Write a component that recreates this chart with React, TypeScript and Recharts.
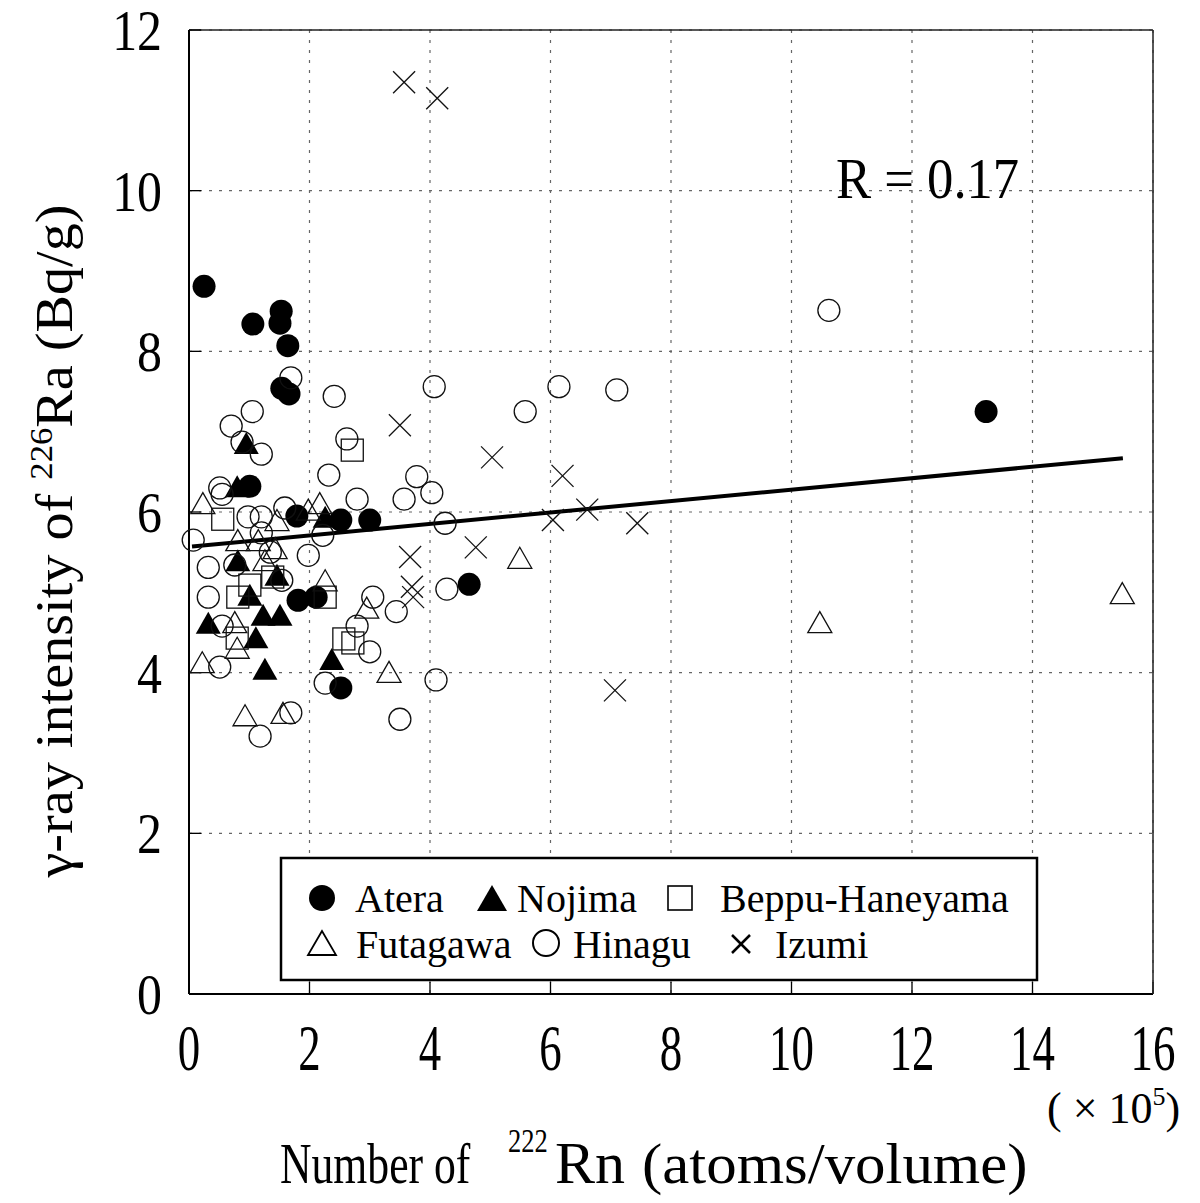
import React from "react"
import { ScatterChart, Scatter, XAxis, YAxis, CartesianGrid, ReferenceLine } from "recharts"

// values (x in units of 10^5 atoms/volume, y in Bq/g)
const ateraX = [0.25, 1.06, 1.53, 1.51, 1.64, 1.54, 1.66, 1.01, 1.79, 1.81, 2.11, 2.52, 3.0, 2.52, 4.65, 13.23]
const ateraY = [8.81, 8.34, 8.5, 8.35, 8.07, 7.54, 7.47, 6.32, 5.95, 4.9, 4.94, 5.9, 5.9, 3.81, 5.1, 7.25]

const nojimaX = [0.95, 0.8, 2.26, 0.81, 1.46, 1.01, 1.23, 1.51, 0.32, 1.11, 1.26, 2.37]
const nojimaY = [6.86, 6.32, 5.94, 5.4, 5.22, 4.97, 4.72, 4.72, 4.62, 4.44, 4.05, 4.17]

const beppuX = [2.71, 0.56, 1.39, 1.01, 0.81, 2.26, 0.8, 2.57, 2.72]
const beppuY = [6.77, 5.91, 5.19, 5.09, 4.94, 4.94, 4.43, 4.42, 4.37]

const futagawaX = [0.23, 2.17, 1.98, 1.46, 0.81, 1.15, 1.43, 1.26, 2.26, 2.95, 0.76, 0.8, 0.22, 0.93, 1.56, 3.32, 5.49, 10.47, 15.49]
const futagawaY = [6.11, 6.11, 6.03, 5.9, 5.65, 5.65, 5.55, 5.4, 5.15, 4.81, 4.63, 4.31, 4.13, 3.47, 3.5, 4.01, 5.43, 4.63, 4.99]

const hinaguX = [10.62, 1.69, 2.41, 1.05, 0.7, 0.88, 1.2, 2.62, 2.32, 0.51, 0.55, 2.79, 1.59, 0.98, 1.2, 1.2, 2.22, 0.07, 1.35, 1.98, 0.32, 0.76, 1.54, 0.32, 3.05, 0.55, 2.79, 3.0, 0.51, 2.26, 1.69, 1.18, 3.44, 3.78, 3.57, 4.03, 4.25, 4.28, 4.1, 3.5, 4.07, 5.58, 6.14, 7.1]
const hinaguY = [8.51, 7.67, 7.44, 7.25, 7.07, 6.87, 6.72, 6.91, 6.46, 6.3, 6.22, 6.16, 6.05, 5.94, 5.94, 5.74, 5.71, 5.65, 5.5, 5.46, 5.31, 5.34, 5.15, 4.94, 4.94, 4.58, 4.58, 4.26, 4.07, 3.87, 3.5, 3.21, 4.76, 6.44, 6.16, 6.24, 5.86, 5.04, 3.91, 3.42, 7.56, 7.25, 7.56, 7.52]

const izumiX = [3.57, 4.12, 3.5, 5.03, 6.2, 6.61, 7.44, 6.04, 4.76, 3.67, 3.7, 3.72, 7.07]
const izumiY = [11.35, 11.15, 7.08, 6.68, 6.45, 6.03, 5.86, 5.9, 5.56, 5.44, 5.07, 4.94, 3.78]

// regression line end points
const fitX = [0.05, 15.5]
const fitY = [5.57, 6.67]

const xTicks = [0, 2, 4, 6, 8, 10, 12, 14, 16]
const yTicks = [0, 2, 4, 6, 8, 10, 12]

const zip = (xs: number[], ys: number[]) => xs.map((x, i) => ({ x, y: ys[i] }))

const FONT = "'Liberation Serif', 'Times New Roman', serif"

const FilledCircle = (p: any) => <circle cx={p.cx} cy={p.cy} r={11.5} fill="#000" />
const OpenCircle = (p: any) => <circle cx={p.cx} cy={p.cy} r={11} fill="none" stroke="#111" strokeWidth={1.3} />
const triPts = (cx: number, cy: number, w: number, h: number) =>
  `${cx},${cy - h / 2} ${cx - w / 2},${cy + h / 2} ${cx + w / 2},${cy + h / 2}`
const FilledTri = (p: any) => <polygon points={triPts(p.cx, p.cy, 25, 22)} fill="#000" />
const OpenTri = (p: any) => <polygon points={triPts(p.cx, p.cy, 24, 21)} fill="none" stroke="#111" strokeWidth={1.3} />
const OpenSquare = (p: any) => (
  <rect x={p.cx - 11} y={p.cy - 11} width={22} height={22} fill="none" stroke="#111" strokeWidth={1.3} />
)
const Cross = (p: any) => (
  <g stroke="#111" strokeWidth={1.3}>
    <line x1={p.cx - 11} y1={p.cy - 11} x2={p.cx + 11} y2={p.cy + 11} />
    <line x1={p.cx - 11} y1={p.cy + 11} x2={p.cx + 11} y2={p.cy - 11} />
  </g>
)

const XTick = (p: any) => (
  <g transform={`translate(${p.x},${p.y})`}>
    <text transform="scale(0.68,1)" y={45} textAnchor="middle" fontFamily={FONT} fontSize={66} fill="#000">
      {p.payload.value}
    </text>
  </g>
)

const YTick = (p: any) => (
  <g transform={`translate(${p.x},${p.y})`}>
    <text transform="scale(0.86,1)" y={20} textAnchor="end" fontFamily={FONT} fontSize={58} fill="#000">
      {p.payload.value}
    </text>
  </g>
)

export default function App() {
  return (
    <div style={{ position: "absolute", left: 0, top: 0, width: 1200, height: 1203, background: "#fff" }}>
      <ScatterChart width={1200} height={1203} margin={{ top: 30, right: 47, bottom: 149, left: 129 }}>
        <CartesianGrid xAxisId="b" yAxisId="l" stroke="#666" strokeDasharray="3 7" strokeWidth={1.2} />
        <XAxis
          type="number"
          dataKey="x"
          xAxisId="b"
          domain={[0, 16]}
          ticks={xTicks}
          height={60}
          tickSize={-12}
          tickMargin={43}
          tick={<XTick />}
          axisLine={{ stroke: "#000", strokeWidth: 2 }}
          tickLine={{ stroke: "#000", strokeWidth: 1.3 }}
        />
        <XAxis
          type="number"
          xAxisId="t"
          orientation="top"
          mirror
          domain={[0, 16]}
          ticks={xTicks}
          tickSize={12}
          tick={false}
          axisLine={{ stroke: "#222", strokeWidth: 1.5 }}
          tickLine={{ stroke: "#000", strokeWidth: 1.3 }}
        />
        <YAxis
          type="number"
          dataKey="y"
          yAxisId="l"
          domain={[0, 12]}
          ticks={yTicks}
          width={60}
          tickSize={-12}
          tickMargin={39}
          tick={<YTick />}
          axisLine={{ stroke: "#000", strokeWidth: 2 }}
          tickLine={{ stroke: "#000", strokeWidth: 1.3 }}
        />
        <YAxis
          type="number"
          yAxisId="r"
          orientation="right"
          mirror
          domain={[0, 12]}
          ticks={yTicks}
          tickSize={12}
          tick={false}
          axisLine={{ stroke: "#222", strokeWidth: 1.5 }}
          tickLine={{ stroke: "#000", strokeWidth: 1.3 }}
        />
        <ReferenceLine
          xAxisId="b"
          yAxisId="l"
          segment={[
            { x: fitX[0], y: fitY[0] },
            { x: fitX[1], y: fitY[1] },
          ]}
          stroke="#000"
          strokeWidth={4}
        />
        <Scatter xAxisId="b" yAxisId="l" name="Atera" data={zip(ateraX, ateraY)} shape={FilledCircle} isAnimationActive={false} />
        <Scatter xAxisId="b" yAxisId="l" name="Nojima" data={zip(nojimaX, nojimaY)} shape={FilledTri} isAnimationActive={false} />
        <Scatter xAxisId="b" yAxisId="l" name="Beppu-Haneyama" data={zip(beppuX, beppuY)} shape={OpenSquare} isAnimationActive={false} />
        <Scatter xAxisId="b" yAxisId="l" name="Futagawa" data={zip(futagawaX, futagawaY)} shape={OpenTri} isAnimationActive={false} />
        <Scatter xAxisId="b" yAxisId="l" name="Hinagu" data={zip(hinaguX, hinaguY)} shape={OpenCircle} isAnimationActive={false} />
        <Scatter xAxisId="b" yAxisId="l" name="Izumi" data={zip(izumiX, izumiY)} shape={Cross} isAnimationActive={false} />
      </ScatterChart>

      {/* titles, annotation and legend */}
      <svg
        width={1200}
        height={1203}
        style={{ position: "absolute", left: 0, top: 0, pointerEvents: "none" }}
        fontFamily={FONT}
      >
        <text transform="translate(836,198) scale(0.94,1)" fontSize={56}>
          R = 0.17
        </text>

        <g transform="translate(72,541) rotate(-90)">
          <text x={0} y={0} textAnchor="middle" fontSize={52} textLength={673} lengthAdjust="spacingAndGlyphs">
            γ-ray intensity of <tspan fontSize={32} dy={-20}>226</tspan>
            <tspan dy={20}>Ra (Bq/g)</tspan>
          </text>
        </g>

        <text transform="translate(280,1183) scale(0.78,1)" fontSize={56}>
          Number of
        </text>
        <text transform="translate(508,1152) scale(0.78,1)" fontSize={34}>
          222
        </text>
        <text transform="translate(555,1183)" fontSize={60}>
          Rn
        </text>
        <text transform="translate(642,1183) scale(1.05,1)" fontSize={58}>
          (atoms/volume)
        </text>

        <text x={1047} y={1123} fontSize={44}>
          ( × 10<tspan fontSize={26} dy={-18}>5</tspan>
          <tspan dy={18}>)</tspan>
        </text>

        <rect x={281} y={858} width={756} height={122} fill="#fff" stroke="#000" strokeWidth={2.5} />
        <circle cx={322} cy={898} r={13} fill="#000" />
        <polygon points={triPts(492, 898, 30, 26)} fill="#000" />
        <rect x={668} y={886} width={24} height={24} fill="none" stroke="#000" strokeWidth={1.6} />
        <polygon points={triPts(322, 943, 28, 24)} fill="none" stroke="#000" strokeWidth={1.8} />
        <circle cx={546} cy={943} r={13} fill="none" stroke="#000" strokeWidth={2} />
        <g stroke="#000" strokeWidth={2.5}>
          <line x1={732} y1={935} x2={750} y2={953} />
          <line x1={732} y1={953} x2={750} y2={935} />
        </g>
        <g fontSize={40}>
          <text x={355} y={912}>Atera</text>
          <text x={517} y={912}>Nojima</text>
          <text x={720} y={912}>Beppu-Haneyama</text>
          <text x={356} y={958}>Futagawa</text>
          <text x={573} y={958}>Hinagu</text>
          <text x={775} y={958}>Izumi</text>
        </g>
      </svg>
    </div>
  )
}
